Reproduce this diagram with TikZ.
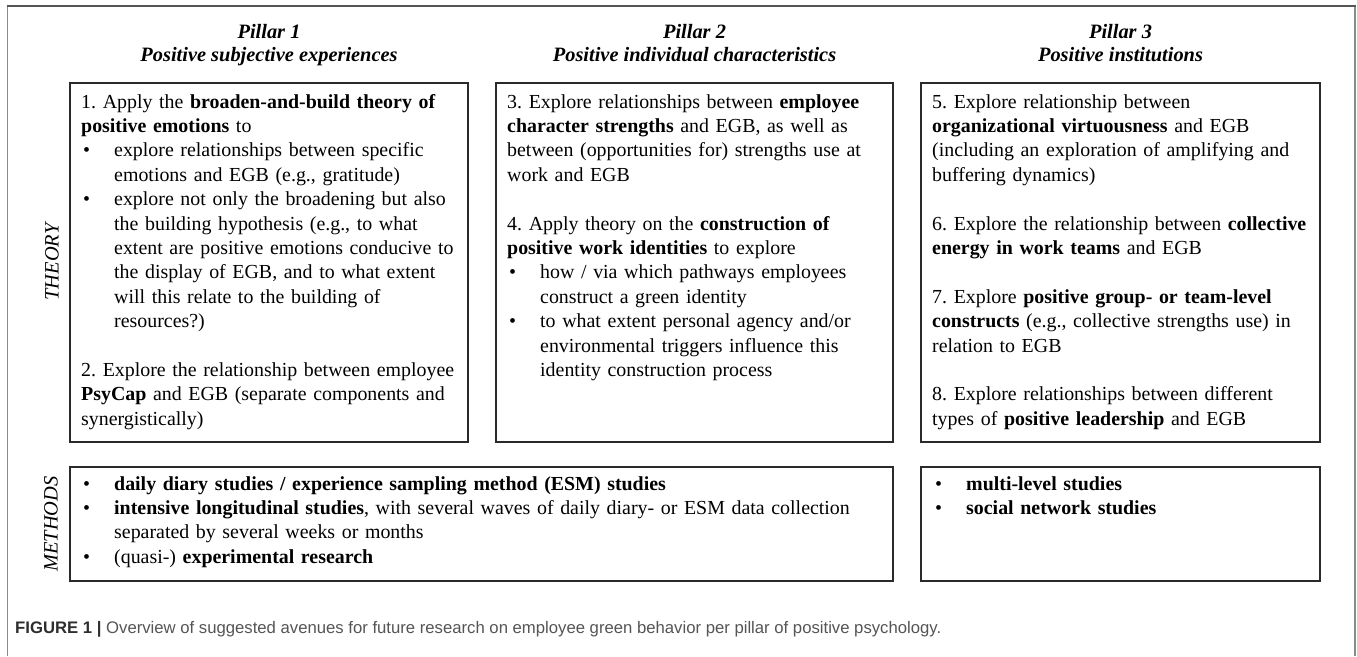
\documentclass[tikz,border=0pt]{standalone}
\usepackage{fontspec}
\setmainfont{Liberation Serif}
\newfontfamily\capfont{Liberation Sans}
\frenchspacing
\definecolor{framegray}{HTML}{8A8A8A}
\definecolor{frametop}{HTML}{555555}
\definecolor{boxline}{HTML}{2A2A2A}
\definecolor{capdark}{HTML}{2E2E2E}
\definecolor{capgray}{HTML}{555555}
% bullet with hanging indent
\newcommand{\bul}{\makebox[33pt][l]{\hspace{2pt}\textbullet}}
\newcommand{\hang}{\hspace*{33pt}}
\begin{document}
\begin{tikzpicture}[x=1pt,y=-1pt,
  box/.style={draw=boxline, line width=1.3pt},
  txt/.style={anchor=base west, inner sep=0pt, align=left, text width=#1,
    font=\fontsize{19.9}{24.4}\selectfont},
  txt/.default=430pt,
  head/.style={anchor=base, inner sep=0pt, font=\fontsize{20.4}{24.4}\selectfont\bfseries\itshape},
  side/.style={rotate=90, inner sep=0pt, font=\fontsize{20.4}{24.4}\selectfont\itshape},
]
\useasboundingbox (0,0) rectangle (1357,656);
\fill[white] (0,0) rectangle (1357,656);

% outer frame (open at the bottom)
\draw[framegray, line width=1.8pt] (7.5,656) -- (7.5,6);
\draw[framegray, line width=1.8pt] (1355,6) -- (1355,656);
\draw[frametop, line width=1.6pt] (6.6,6) -- (1355.9,6);

% pillar headings
\node[head] (p1a) at (269,38.5) {Pillar 1};
\node[head] (p1b) at (269,61.5) {Positive subjective experiences};
\node[head] (p2a) at (694.5,38.5) {Pillar 2};
\node[head] (p2b) at (694.5,61.5) {Positive individual characteristics};
\node[head] (p3a) at (1120.5,38.5) {Pillar 3};
\node[head] (p3b) at (1120.5,61.5) {Positive institutions};

% row labels
\node[side] (theory) at (52,262) {THEORY};
\node[side] (methods) at (51,524) {METHODS};

% boxes
\draw[box] (70,83) rectangle (468,442);
\draw[box] (496,83) rectangle (893,442);
\draw[box] (921,83) rectangle (1320,442);
\draw[box] (70,467) rectangle (893,581);
\draw[box] (921,467) rectangle (1320,581);

% theory, pillar 1
\node[txt] (t1) at (81,108) {1. Apply the \textbf{broaden-and-build theory of}\\
\textbf{positive emotions} to\\
\bul explore relationships between specific\\
\hang emotions and EGB (e.g., gratitude)\\
\bul explore not only the broadening but also\\
\hang the building hypothesis (e.g., to what\\
\hang extent are positive emotions conducive to\\
\hang the display of EGB, and to what extent\\
\hang will this relate to the building of\\
\hang resources?)\\[24.4pt]
2. Explore the relationship between employee\\
\textbf{PsyCap} and EGB (separate components and\\
synergistically)};

% theory, pillar 2
\node[txt] (t2) at (507,108) {3. Explore relationships between \textbf{employee}\\
\textbf{character strengths} and EGB, as well as\\
between (opportunities for) strengths use at\\
work and EGB\\[24.4pt]
4. Apply theory on the \textbf{construction of}\\
\textbf{positive work identities} to explore\\
\bul how / via which pathways employees\\
\hang construct a green identity\\
\bul to what extent personal agency and/or\\
\hang environmental triggers influence this\\
\hang identity construction process};

% theory, pillar 3
\node[txt] (t3) at (932,108) {5. Explore relationship between\\
\textbf{organizational virtuousness} and EGB\\
(including an exploration of amplifying and\\
buffering dynamics)\\[24.4pt]
6. Explore the relationship between \textbf{collective}\\
\textbf{energy in work teams} and EGB\\[24.4pt]
7. Explore \textbf{positive group- or team-level}\\
\textbf{constructs} (e.g., collective strengths use) in\\
relation to EGB\\[24.4pt]
8. Explore relationships between different\\
types of \textbf{positive leadership} and EGB};

% methods
\node[txt=800pt] (m1) at (81,490) {\bul\textbf{daily diary studies / experience sampling method (ESM) studies}\\
\bul\textbf{intensive longitudinal studies}, with several waves of daily diary- or ESM data collection\\
\hang separated by several weeks or months\\
\bul(quasi-) \textbf{experimental research}};
\node[txt=380pt] (m2) at (933,490) {\bul\textbf{multi-level studies}\\
\bul\textbf{social network studies}};

% caption
\node[anchor=base west, inner sep=0pt, font=\capfont\fontsize{16.7}{19}\selectfont] (cap) at (15,633)
  {\textcolor{capdark}{\textbf{FIGURE 1 |}} \textcolor{capgray}{Overview of suggested avenues for future research on employee green behavior per pillar of positive psychology.}};
\end{tikzpicture}
\end{document}
